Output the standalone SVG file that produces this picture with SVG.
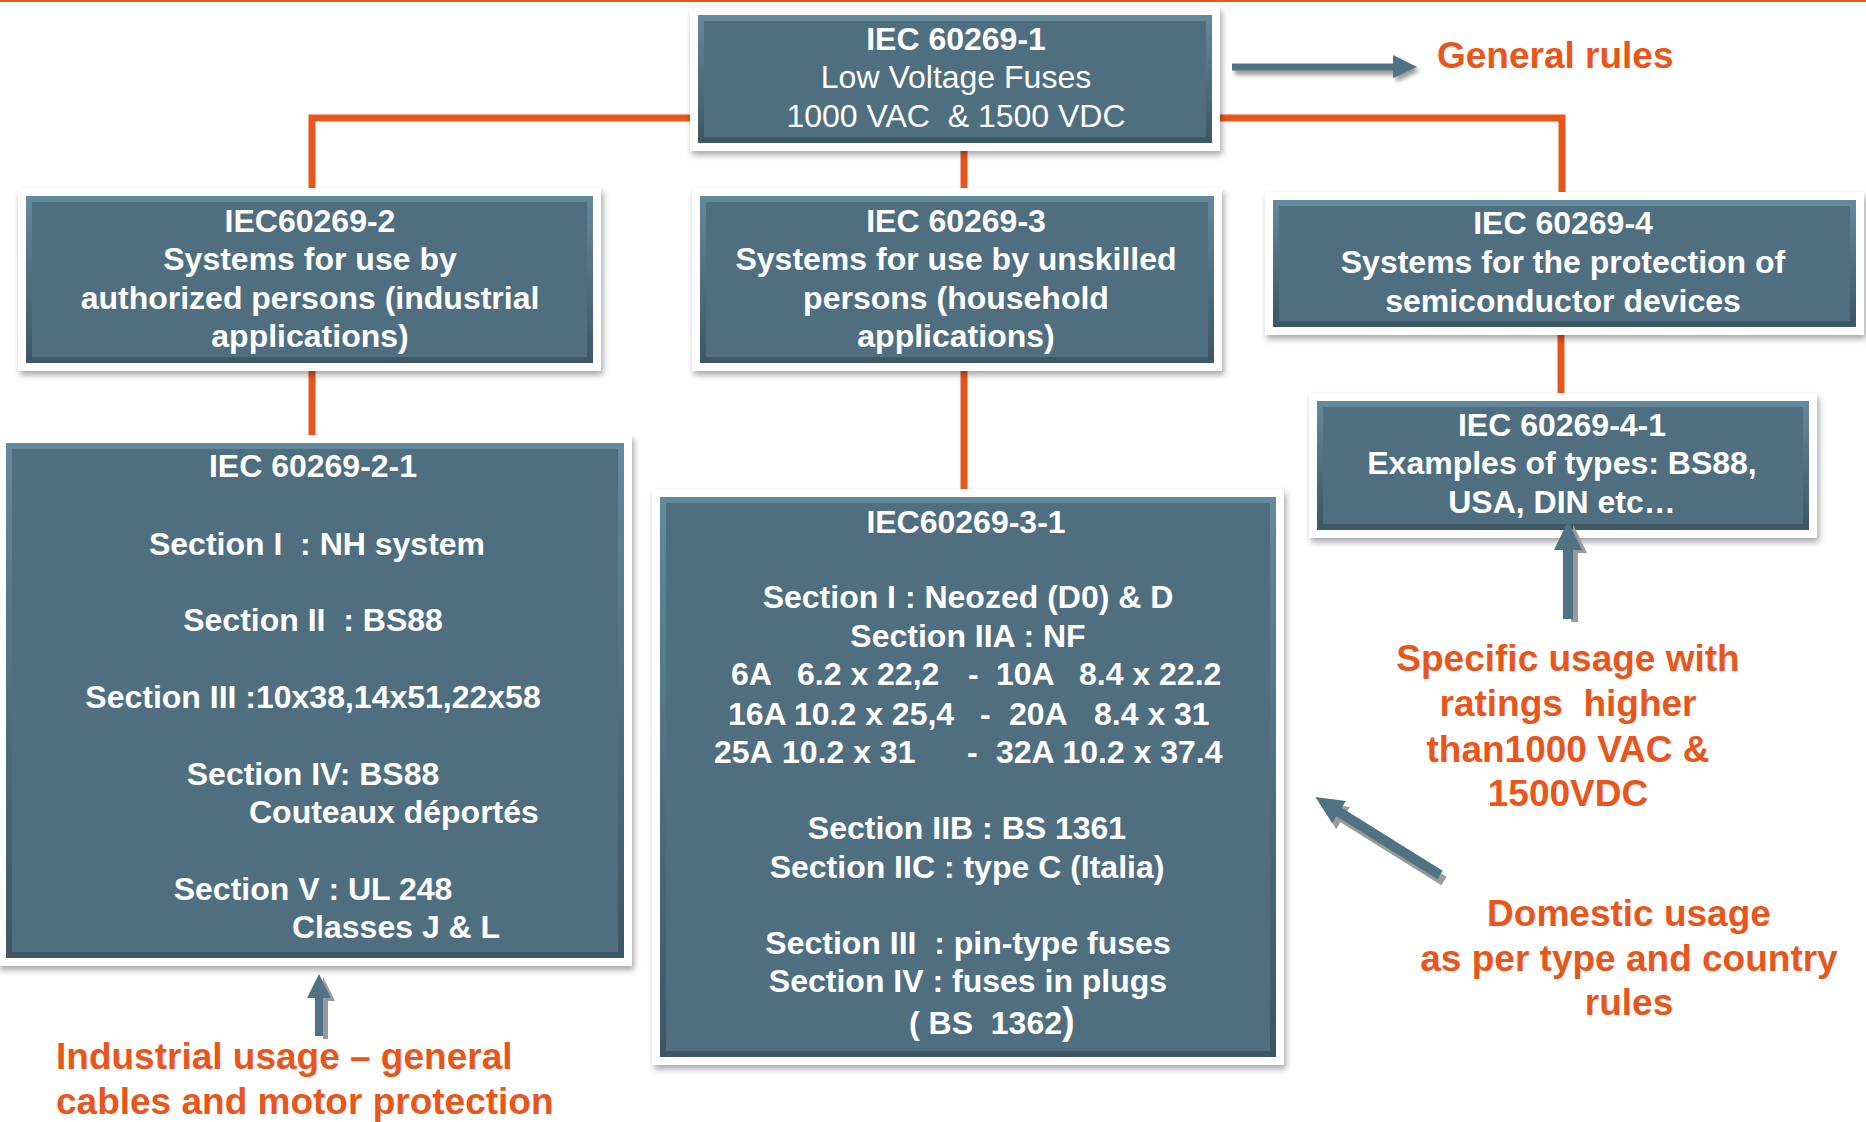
<svg xmlns="http://www.w3.org/2000/svg" width="1866" height="1122" viewBox="0 0 1866 1122">
<style>
.frame{fill:#ffffff;filter:url(#sh)}
.blue{fill:#4f6f81}
.bevel{fill:none;stroke:url(#bev);stroke-width:6}
.t{font-family:"Liberation Sans",Arial,sans-serif;font-size:32px;fill:#ffffff;text-anchor:middle}
.b{font-weight:bold}
.o{font-family:"Liberation Sans",Arial,sans-serif;font-size:37px;font-weight:bold;fill:#e8561c;text-anchor:middle}
.s{text-anchor:start}
.con{fill:none;stroke:#e8561c;stroke-width:7}
.arr{fill:#4f7385}
.ash{fill:#9a9a9a}
</style>
<defs>
<filter id="sh" x="-5%" y="-5%" width="110%" height="115%">
<feDropShadow dx="2" dy="4" stdDeviation="3" flood-color="#000" flood-opacity="0.35"/>
</filter>
<filter id="blur" x="-10%" y="-50%" width="120%" height="200%">
<feGaussianBlur stdDeviation="2"/>
</filter>
<linearGradient id="bev" x1="0" y1="0" x2="0" y2="1">
<stop offset="0" stop-color="#64889c"/>
<stop offset="0.5" stop-color="#4f6f81"/>
<stop offset="1" stop-color="#3d5765"/>
</linearGradient>
</defs>
<rect x="0" y="0" width="1866" height="1122" fill="#ffffff"/>
<rect x="0" y="0" width="1866" height="2" fill="#e8561c"/>

<g id="connectors">
<path class="con" d="M690,118 H312 V188"/>
<path class="con" d="M1220,118 H1562 V192"/>
<path class="con" d="M964,151 V188"/>
<path class="con" d="M312,371 V435"/>
<path class="con" d="M964,371 V489"/>
<path class="con" d="M1561,335 V393"/>
</g>

<g id="n-iec1">
<rect class="frame" x="690" y="7" width="530" height="144"/>
<rect class="blue" x="698" y="15" width="514" height="128"/>
<rect class="bevel" x="701" y="18" width="508" height="122"/>
<text class="t b" x="956" y="50">IEC 60269-1</text>
<text class="t" x="956" y="88">Low Voltage Fuses</text>
<text class="t" x="956" y="127" xml:space="preserve">1000 VAC  &amp; 1500 VDC</text>
</g>

<g id="n-iec2">
<rect class="frame" x="18" y="188" width="583" height="183"/>
<rect class="blue" x="26" y="196" width="567" height="167"/>
<rect class="bevel" x="29" y="199" width="561" height="161"/>
<text class="t b" x="310" y="232">IEC60269-2</text>
<text class="t b" x="310" y="270">Systems for use by</text>
<text class="t b" x="310" y="309">authorized persons (industrial</text>
<text class="t b" x="310" y="347">applications)</text>
</g>

<g id="n-iec3">
<rect class="frame" x="692" y="188" width="530" height="183"/>
<rect class="blue" x="700" y="196" width="514" height="167"/>
<rect class="bevel" x="703" y="199" width="508" height="161"/>
<text class="t b" x="956" y="232">IEC 60269-3</text>
<text class="t b" x="956" y="270">Systems for use by unskilled</text>
<text class="t b" x="956" y="309">persons (household</text>
<text class="t b" x="956" y="347">applications)</text>
</g>

<g id="n-iec4">
<rect class="frame" x="1265" y="192" width="599" height="143"/>
<rect class="blue" x="1273" y="200" width="583" height="127"/>
<rect class="bevel" x="1276" y="203" width="577" height="121"/>
<text class="t b" x="1563" y="234">IEC 60269-4</text>
<text class="t b" x="1563" y="273">Systems for the protection of</text>
<text class="t b" x="1563" y="312">semiconductor devices</text>
</g>

<g id="n-iec41">
<rect class="frame" x="1309" y="393" width="508" height="145"/>
<rect class="blue" x="1317" y="401" width="492" height="129"/>
<rect class="bevel" x="1320" y="404" width="486" height="123"/>
<text class="t b" x="1562" y="436">IEC 60269-4-1</text>
<text class="t b" x="1562" y="474">Examples of types: BS88,</text>
<text class="t b" x="1562" y="513">USA, DIN etc…</text>
</g>

<g id="n-iec21">
<rect class="frame" x="-2" y="435" width="634" height="531"/>
<rect class="blue" x="6" y="443" width="618" height="515"/>
<rect class="bevel" x="9" y="446" width="612" height="509"/>
<text class="t b" x="313" y="477">IEC 60269-2-1</text>
<text class="t b" x="317" y="555" xml:space="preserve">Section I  : NH system</text>
<text class="t b" x="313" y="631" xml:space="preserve">Section II  : BS88</text>
<text class="t b" x="313" y="708">Section III :10x38,14x51,22x58</text>
<text class="t b" x="313" y="785">Section IV: BS88</text>
<text class="t b s" x="249" y="823">Couteaux déportés</text>
<text class="t b" x="313" y="900">Section V : UL 248</text>
<text class="t b s" x="292" y="938">Classes J &amp; L</text>
</g>

<g id="n-iec31">
<rect class="frame" x="652" y="489" width="632" height="576"/>
<rect class="blue" x="660" y="497" width="616" height="560"/>
<rect class="bevel" x="663" y="500" width="610" height="554"/>
<text class="t b" x="966" y="533">IEC60269-3-1</text>
<text class="t b" x="968" y="608">Section I : Neozed (D0) &amp; D</text>
<text class="t b" x="968" y="647">Section IIA : NF</text>
<text class="t b s" y="685"><tspan x="731">6A</tspan><tspan x="797">6.2 x 22,2</tspan><tspan x="968">-</tspan><tspan x="996">10A</tspan><tspan x="1079">8.4 x 22.2</tspan></text>
<text class="t b s" y="725"><tspan x="728">16A</tspan><tspan x="794">10.2 x 25,4</tspan><tspan x="980">-</tspan><tspan x="1009">20A</tspan><tspan x="1094">8.4 x 31</tspan></text>
<text class="t b s" y="763"><tspan x="714">25A</tspan><tspan x="782">10.2 x 31</tspan><tspan x="967">-</tspan><tspan x="996">32A 10.2 x 37.4</tspan></text>
<text class="t b" x="967" y="839">Section IIB : BS 1361</text>
<text class="t b" x="967" y="878">Section IIC : type C (Italia)</text>
<text class="t b" x="968" y="954" xml:space="preserve">Section III  : pin-type fuses</text>
<text class="t b" x="968" y="992">Section IV : fuses in plugs</text>
<text class="t b s" x="909" y="1034" xml:space="preserve">( BS  1362<tspan font-size="38">)</tspan></text>
</g>

<g id="l-general">
<polygon class="ash" filter="url(#blur)" points="1235,68 1396,68 1396,58 1420,71 1396,82 1396,75 1235,75"/>
<polygon class="arr" points="1232,63.5 1393,63.5 1393,55 1417,67 1393,78 1393,70.5 1232,70.5"/>
<text class="o s" x="1437" y="68">General rules</text>
</g>

<g id="l-specific">
<polygon class="ash" points="1573,524 1587,553 1578,553 1578,622 1571,622"/>
<polygon class="arr" points="1568,521 1582,550 1573,550 1573,619 1563,619 1563,550 1554,550"/>
<text class="o" x="1568" y="671">Specific usage with</text>
<text class="o" x="1568" y="716" xml:space="preserve">ratings  higher</text>
<text class="o" x="1568" y="762">than1000 VAC &amp;</text>
<text class="o" x="1568" y="806">1500VDC</text>
</g>

<g id="l-domestic">
<g transform="translate(1444,881) rotate(212)">
<polygon class="ash" points="0,-5 119,-5 119,-13 147,0 119,13 119,5 0,5"/>
</g>
<g transform="translate(1440,875) rotate(212)">
<polygon class="arr" points="0,-5 119,-5 119,-13 147,0 119,13 119,5 0,5"/>
</g>
<text class="o" x="1629" y="926">Domestic usage</text>
<text class="o" x="1629" y="971">as per type and country</text>
<text class="o" x="1629" y="1015">rules</text>
</g>

<g id="l-industrial">
<polygon class="ash" points="323,977 335,1001 328,1001 328,1039 323,1039"/>
<polygon class="arr" points="319,974 331,998 323,998 323,1036 315,1036 315,998 307,998"/>
<text class="o s" x="56" y="1069">Industrial usage – general</text>
<text class="o s" x="56" y="1114">cables and motor protection</text>
</g>
</svg>
